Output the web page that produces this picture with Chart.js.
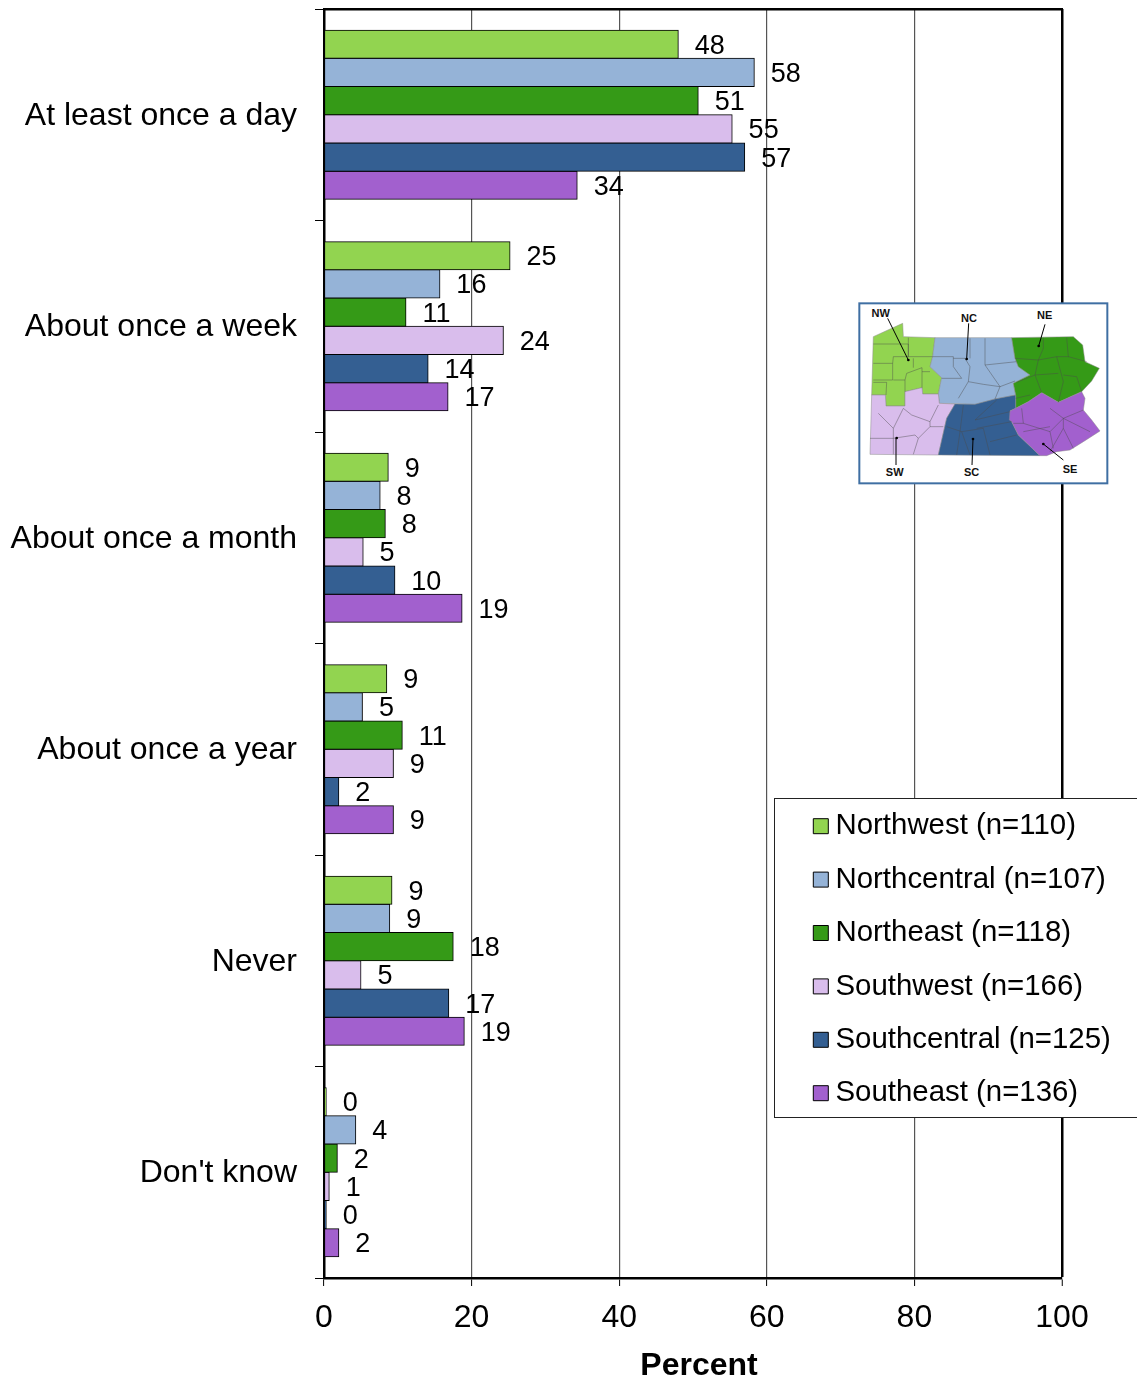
<!DOCTYPE html>
<html><head><meta charset="utf-8">
<script src="https://cdn.jsdelivr.net/npm/chart.js@4"></script>
<style>
html,body{margin:0;padding:0;background:#fff;overflow:hidden}
#wrap{position:relative;width:1137px;height:1380px}
canvas{position:absolute;left:0;top:0}
#map{position:absolute;left:850px;top:295px;width:270px;height:200px}
</style></head><body>
<div id="wrap"><canvas id="c" width="1137" height="1380"></canvas>
<svg id="map" viewBox="0 0 810 600">
<rect x="28" y="25" width="744" height="540" fill="#fff" stroke="#3f6fa3" stroke-width="6"/>
<g stroke="#8a8a8a" stroke-width="1.5" stroke-linejoin="round">
<polygon fill="#92d450" points="70,125 158,85 160,125 255,128 248,185 240,215 275,248 265,297 218,297 216,278 165,290 165,333 108,333 106,300 65,300"/>
<polygon fill="#95b3d7" points="255,128 485,128 495,190 505,215 540,240 490,265 497,300 435,312 375,328 268,325 265,297 275,248 240,215 248,185"/>
<polygon fill="#359a17" points="485,128 670,125 698,150 705,200 748,220 725,258 695,290 625,322 575,293 535,320 497,340 497,300 490,265 540,240 505,215 495,190"/>
<polygon fill="#d9bdec" points="65,300 106,300 108,333 165,333 165,290 216,278 218,297 265,297 268,325 315,327 290,370 265,480 60,478"/>
<polygon fill="#345f92" points="315,327 375,328 435,312 497,300 497,340 480,348 485,380 505,420 570,482 265,480 290,370"/>
<polygon fill="#a260ce" points="575,293 625,322 695,290 705,310 700,345 725,375 750,408 700,440 660,465 620,470 590,482 570,482 505,420 485,380 478,375 480,348 497,340 535,320"/>
</g>
<g fill="none" stroke="#4a4a4a" stroke-width="2" stroke-opacity=".65">
<path d="M70,147H175V185H248M175,128V185M70,205H128L130,185H175M128,205V255H70M70,262H110L108,300M130,255H165V290M165,255L170,235L216,218V278M216,230H240M190,190V218"/>
<path d="M248,185H310V215L335,250H275M310,190H345L360,215L355,260L325,310M360,130V190M405,130V210L450,275L435,312M405,210L500,200M355,260L400,268L450,275L495,258"/>
<path d="M495,190L565,195L580,160V128M650,128L655,185L620,185L565,195L555,240L500,262M620,185L640,260L625,322M655,185L710,200M640,240L680,245L695,290M555,240L625,235M555,240L575,293M540,300L497,310"/>
<path d="M85,355L130,400L160,340M160,340L185,360L240,380L265,330M130,400V430H60M130,430L195,420L205,430L240,395H280M205,430L190,478M130,430V478M240,380V395"/>
<path d="M340,330L330,410L320,480M290,395L335,410L360,480M375,375L480,350M380,400L485,380M335,410L400,400L420,480M420,440L500,420M440,315L375,375"/>
<path d="M515,340L520,385L600,410L640,370L700,345M600,340L640,370L720,410M520,385L490,385M600,410L610,460M640,370L640,400L600,470M520,410L600,395M640,400L670,460"/>
</g>
<g stroke="#000" stroke-width="3" fill="none">
<path d="M113,70L175,195M356,85L350,192M585,88L566,153M138,430V510M369,432L366,510M580,447L640,495"/>
</g>
<g fill="#000"><circle cx="175" cy="195" r="4"/><circle cx="350" cy="192" r="4"/><circle cx="566" cy="153" r="4"/><circle cx="140" cy="429" r="4"/><circle cx="369" cy="432" r="4"/><circle cx="580" cy="447" r="4"/></g>
<g font-family="Liberation Sans, Arial, sans-serif" font-weight="700" font-size="33" fill="#111" text-anchor="middle">
<text x="92" y="66">NW</text><text x="357" y="81">NC</text><text x="584" y="73">NE</text><text x="134" y="542">SW</text><text x="365" y="542">SC</text><text x="660" y="533">SE</text>
</g>
</svg></div>
<script>
const categories=["At least once a day","About once a week","About once a month","About once a year","Never","Don't know"];
const xTicks=[0,20,40,60,80,100];
const northwest=[48,25.2,8.7,8.5,9.2,0.3];
const northcentral=[58.3,15.7,7.6,5.2,8.9,4.3];
const northeast=[50.7,11.1,8.3,10.6,17.5,1.8];
const southwest=[55.3,24.3,5.3,9.4,5,0.7];
const southcentral=[57,14.1,9.6,2,16.9,0.3];
const southeast=[34.3,16.8,18.7,9.4,19,2];
const seriesNames=["Northwest (n=110)","Northcentral (n=107)","Northeast (n=118)","Southwest (n=166)","Southcentral (n=125)","Southeast (n=136)"];
const seriesColors=["#92d450","#95b3d7","#359a17","#d9bdec","#345f92","#a260ce"];
const seriesValues=[northwest,northcentral,northeast,southwest,southcentral,southeast];
const FONT="'Liberation Sans', Arial, sans-serif";

const valueLabels={id:'valueLabels',afterDatasetsDraw(chart){
  const c=chart.ctx;c.save();
  c.font="27px "+FONT;c.fillStyle="#000";c.textAlign="left";c.textBaseline="middle";
  chart.data.datasets.forEach((d,i)=>{
    chart.getDatasetMeta(i).data.forEach((el,j)=>{
      c.fillText(String(Math.round(d.data[j])),el.x+16.5,el.y+2);
    });
  });
  c.restore();
}};
const legendPlace={id:'legendPlace',
  afterInit(chart){
    const lg=chart.legend,orig=lg.draw.bind(lg);
    lg.draw=function(){
      const c=chart.ctx;c.save();
      c.fillStyle="#fff";c.fillRect(774.5,798.5,400,319);
      c.strokeStyle="#222";c.lineWidth=1;c.strokeRect(774.5,798.5,400,319);
      c.restore();
      orig();
    };
  },
  afterLayout(chart){
    const lg=chart.legend;
    lg.left=796.8;lg.right=1137;lg.top=787.5;lg.bottom=1135;lg.width=340;lg.height=348;
    const s=chart.scales.x;
    if(!s._shifted){
      s._shifted=true;
      const d=s.drawTitle.bind(s);
      s.drawTitle=function(){const l=s.left;s.left=l+12;d();s.left=l;};
    }
  }};

new Chart(document.getElementById('c'),{
  type:'bar',
  data:{labels:categories,datasets:seriesValues.map((v,i)=>({label:seriesNames[i],data:v,backgroundColor:seriesColors[i],borderColor:"#000",borderWidth:1,borderSkipped:false,inflateAmount:0.5,categoryPercentage:0.8,barPercentage:1}))},
  plugins:[valueLabels,legendPlace],
  options:{
    indexAxis:'y',responsive:false,animation:false,devicePixelRatio:1,
    layout:{padding:{left:0,right:75,top:9,bottom:0}},
    plugins:{
      tooltip:{enabled:false},
      legend:{position:'chartArea',align:'start',
        labels:{usePointStyle:true,pointStyle:'rect',boxWidth:0.01,boxHeight:15,padding:24,color:"#000",font:{family:FONT,size:29.4}}}
    },
    scales:{
      x:{type:'linear',position:'bottom',min:0,max:100,
        afterFit(s){s.height=102;s.paddingLeft=0;s.paddingRight=0;},
        afterBuildTicks(s){s.ticks=xTicks.map(v=>({value:v}));},
        grid:{color:c=>(c.tick&&(c.tick.value===100||c.tick.value===0))?"#000":"#555",lineWidth:c=>(c.tick&&c.tick.value===100)?2.5:1.2,tickColor:"#000",tickLength:8,tickWidth:1},
        border:{display:true,color:"#000",width:2.5},
        ticks:{color:"#000",font:{family:FONT,size:32},padding:13,maxRotation:0},
        title:{display:true,text:"Percent",color:"#000",font:{family:FONT,size:32,weight:'bold'},padding:{top:8,bottom:-5}}
      },
      xTop:{type:'linear',position:'top',min:0,max:100,display:true,afterFit(s){s.height=0;s.paddingLeft=0;s.paddingRight=0;},
        grid:{display:false,drawTicks:false},ticks:{display:false},border:{display:true,color:"#000",width:2.5}},
      y:{type:'category',position:'left',offset:true,
        afterFit(s){s.width=324;s.paddingTop=0;s.paddingBottom=0;},
        grid:{offset:true,drawOnChartArea:false,drawTicks:true,tickLength:9,color:"#000",lineWidth:1},
        border:{display:true,color:"#000",width:2.5},
        ticks:{color:"#000",font:{family:FONT,size:32},padding:18,autoSkip:false,labelOffset:1}
      }
    }
  }
});
</script></body></html>
